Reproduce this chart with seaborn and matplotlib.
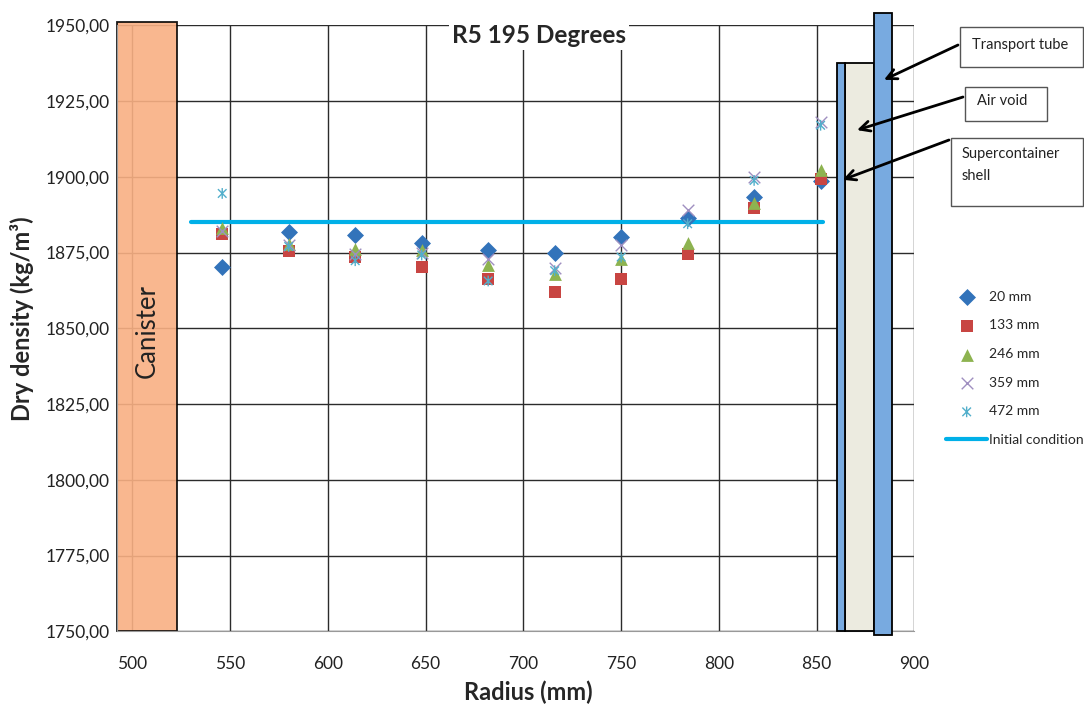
import matplotlib
matplotlib.use('Agg')
import matplotlib.pyplot as plt
from matplotlib.patches import Rectangle
from matplotlib.path import Path
from matplotlib.ticker import FuncFormatter, MultipleLocator
import pandas as pd
import seaborn as sns

# measurement radii (mm) and dry density per height level (kg/m3)
radius = [546, 580, 614, 648, 682, 716, 750, 784, 818, 852]
d20 = [1870.3, 1881.9, 1880.8, 1878.3, 1875.8, 1874.9, 1880.2, 1886.3, 1893.2, 1898.5]
d133 = [1881.2, 1875.6, 1873.4, 1870.1, 1866.2, 1861.9, 1866.2, 1874.4, 1889.6, 1899.2]
d246 = [1883.0, 1877.8, 1876.0, 1875.8, 1871.0, 1867.8, 1873.0, 1878.0, 1891.3, 1902.2]
d359 = [1882.0, 1877.5, 1874.5, 1875.0, 1873.0, 1870.0, 1877.5, 1889.0, 1899.8, 1918.0]
d472 = [1894.5, 1877.0, 1872.3, 1874.2, 1865.6, 1869.0, 1873.5, 1884.5, 1898.8, 1917.0]
levels = ['20 mm', '133 mm', '246 mm', '359 mm', '472 mm']

initial_x = [530, 853]
initial_y = [1885, 1885]

# geometry of the canister and the outer shells (mm)
canister = (492, 523)
shell = (860.3, 864.5)
air_void = (864.5, 879.3)
tube = (879.3, 888.6)

df = pd.DataFrame({'Radius': radius * 5,
                   'Density': d20 + d133 + d246 + d359 + d472,
                   'Level': [l for l in levels for _ in radius]})

sns.set_style('white')
plt.rcParams['font.family'] = ['Lato', 'DejaVu Sans']

fig = plt.figure(figsize=(10.84, 7.10), dpi=100)
ax = fig.add_axes([0.1076, 0.1109, 0.736, 0.8535])

asterisk = Path([(-1, -1), (1, 1), (-1, 1), (1, -1), (0, -1.25), (0, 1.25)],
                [Path.MOVETO, Path.LINETO] * 3)
styles = {
    '20 mm': dict(marker='D', color='#3273BA', s=75, linewidth=0),
    '133 mm': dict(marker='s', color='#C84542', s=75, linewidth=0),
    '246 mm': dict(marker='^', color='#8DB350', s=85, linewidth=0),
    '359 mm': dict(marker='x', color='#9F8FC0', s=70, linewidth=1.0),
    '472 mm': dict(marker=asterisk, color='#52AFCB', edgecolor='#52AFCB',
                   facecolor='none', s=60, linewidth=1.0),
}
for i, lvl in enumerate(levels):
    sub = df[df['Level'] == lvl]
    sns.scatterplot(data=sub, x='Radius', y='Density', ax=ax, label=lvl,
                    zorder=4 + i, **styles[lvl])

sns.lineplot(x=initial_x, y=initial_y, ax=ax, color='#00B0E8', linewidth=3,
             label='Initial condition', zorder=3)

ax.set_xlim(492, 900)
ax.set_ylim(1750, 1950)
ax.xaxis.set_major_locator(MultipleLocator(50))
ax.yaxis.set_major_locator(MultipleLocator(25))
ax.yaxis.set_major_formatter(FuncFormatter(lambda v, p: f'{v:.2f}'.replace('.', ',')))
ax.grid(True, color='#2b2b2b', linewidth=1.0)
ax.set_axisbelow(True)
for side in ['top', 'right']:
    ax.spines[side].set_visible(False)
for side in ['left', 'bottom']:
    ax.spines[side].set_color('#999999')
ax.tick_params(axis='x', length=4, color='#999999', pad=14, labelsize=12.5, labelcolor='#222222')
ax.tick_params(axis='y', length=0, pad=5, labelsize=12.5, labelcolor='#222222')

ax.set_xlabel('Radius (mm)', fontsize=17, fontweight='bold')
ax.set_ylabel('Dry density (kg/m³)', fontsize=17, fontweight='bold')
ax.xaxis.set_label_coords(0.516, -0.082)
ax.yaxis.set_label_coords(-0.104, 0.515)

# canister and shell structure
ax.add_patch(Rectangle((canister[0], 1750), canister[1] - canister[0], 201,
                       facecolor='#F9B083', edgecolor='black', linewidth=1.3,
                       alpha=0.9, zorder=2, clip_on=False))
ax.text(sum(canister) / 2, 1849, 'Canister', rotation=90, ha='center', va='center',
        fontsize=18.5, color='#222222', zorder=3)
ax.add_patch(Rectangle((air_void[0], 1750), air_void[1] - air_void[0], 187.5,
                       facecolor='#ECEBE0', edgecolor='black', linewidth=1.3,
                       zorder=10, clip_on=False))
ax.add_patch(Rectangle((shell[0], 1750), shell[1] - shell[0], 187.5,
                       facecolor='#78AAE0', edgecolor='black', linewidth=1.3,
                       zorder=11, clip_on=False))
ax.add_patch(Rectangle((tube[0], 1748.7), tube[1] - tube[0], 205.5,
                       facecolor='#78AAE0', edgecolor='black', linewidth=1.3,
                       zorder=11, clip_on=False))

ax.text(708, 1946.5, 'R5 195 Degrees', ha='center', va='center', fontsize=17.5,
        fontweight='bold', zorder=12,
        bbox=dict(facecolor='white', edgecolor='none', pad=2))

# labelled boxes on the right with arrows
W, H = 1084, 710
boxes = [
    ('Transport tube', (960, 27, 123, 40), (972, 45), (884.4, 1932), (958, 45)),
    ('Air void', (965, 87, 82, 34), (977, 101), (870.6, 1915.4), (963, 97)),
    ('Supercontainer\nshell', (951, 138, 132, 68), (962, 165), (863.3, 1899), (949, 140)),
]
for text, (bx, by, bw, bh), (tx, ty), target, start in boxes:
    fig.patches.append(Rectangle((bx / W, 1 - (by + bh) / H), bw / W, bh / H,
                                 transform=fig.transFigure, fill=False,
                                 edgecolor='#555555', linewidth=1.0))
    fig.text(tx / W, 1 - ty / H, text, ha='left', va='center', fontsize=10.5,
             linespacing=1.7, color='#222222')
    ax.annotate('', xy=target, xycoords='data',
                xytext=(start[0] / W, 1 - start[1] / H), textcoords='figure fraction',
                arrowprops=dict(arrowstyle='->', color='black', lw=2,
                                mutation_scale=18, shrinkA=0, shrinkB=0),
                zorder=13, annotation_clip=False)

ax.legend(loc='upper left', bbox_to_anchor=(0.861, 0.608), bbox_transform=fig.transFigure,
          frameon=False, fontsize=10, labelspacing=1.2, handlelength=3.0,
          handletextpad=0.1)

fig.savefig('out.png', dpi=100)
